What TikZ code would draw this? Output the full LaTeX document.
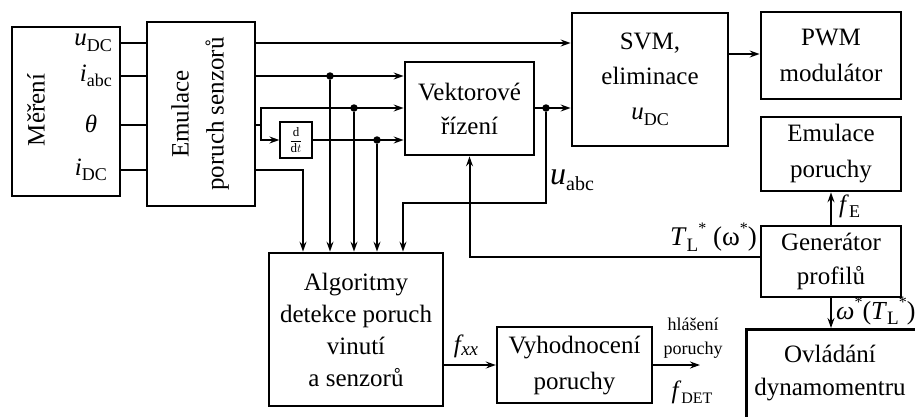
\documentclass[tikz,border=0pt]{standalone}
\usepackage{fontspec}
\setmainfont{Liberation Serif}
\usetikzlibrary{arrows.meta}
\newcommand\fA{\fontsize{25}{34}\selectfont}
\newcommand\fS{\fontsize{18}{20}\selectfont}
\newcommand\sbs[2]{\textit{#1}\raisebox{-0.22em}{\fontsize{18}{18}\selectfont #2}}
\newcommand\sps{\raisebox{0.45em}{\fontsize{16}{16}\selectfont *}}
\tikzset{
  box/.style={draw, line width=2.8pt, inner sep=0pt, align=center, font=\fA},
  ln/.style={line width=2pt},
  ar/.style={line width=2pt, -{Stealth[length=10pt,width=7pt,inset=3.5pt]}},
  dot/.style={circle, fill, inner sep=0pt, minimum size=7.5pt},
  lbl/.style={font=\fA, inner sep=0pt},
  smalltext/.style={font=\fS, inner sep=0pt}}
\begin{document}
\begin{tikzpicture}[x=1pt,y=-1pt]
\useasboundingbox (0,0) rectangle (915,416);

% boxes
\node[box, minimum width=108, minimum height=169] (mer) at (66,111.5) {};
\node[lbl, rotate=90] (merT) at (36,110) {Měření};
\node[lbl, anchor=east] (lu) at (112,43) {\sbs{u}{DC}};
\node[lbl, anchor=east] (li) at (112,76) {\sbs{i}{abc}};
\node[lbl] (lt) at (91,124) {\textit{θ}};
\node[lbl, anchor=east] (ld) at (107,170) {\sbs{i}{DC}};

\node[box, minimum width=108, minimum height=184] (emu) at (201,114) {};
\node[lbl, rotate=90, align=center, font=\fontsize{25}{35}\selectfont] (emuT) at (200,114) {Emulace\\poruch senzorů};

\node[box, minimum width=129, minimum height=93] (vek) at (469.5,108.5) {Vektorové\\řízení};
\node[box, font=\fontsize{25}{35}\selectfont, minimum width=156, minimum height=133] (svm) at (650,79.5) {SVM,\\eliminace\\\sbs{u}{DC}};
\node[box, font=\fontsize{25}{36}\selectfont, minimum width=140, minimum height=87] (pwm) at (831,55.5) {PWM\\modulátor};
\node[box, font=\fontsize{25}{36}\selectfont, minimum width=140, minimum height=74] (emp) at (831,154) {Emulace\\poruchy};
\node[box, minimum width=140, minimum height=71] (gen) at (831,261.5) {Generátor\\profilů};
\node[box, minimum width=220, minimum height=120, anchor=north west] (ovl) at (745,328) {};
\node[lbl, align=center, font=\fontsize{25}{33}\selectfont] (ovlT) at (830,373) {Ovládání\\dynamomentru};
\node[box, minimum width=174, minimum height=153, font=\fontsize{25}{32}\selectfont] (alg) at (356,329.5) {Algoritmy\\detekce poruch\\vinutí\\a senzorů};
\node[box, line width=2.4pt, minimum width=155, minimum height=76, font=\fontsize{25}{36}\selectfont] (vyh) at (574.5,365) {Vyhodnocení\\poruchy};
\node[draw, line width=1.3pt, minimum width=32, minimum height=36, inner sep=0pt, font=\fontsize{13}{13}\selectfont] (ddt) at (296,140) {$\displaystyle\frac{\mathrm{d}}{\mathrm{d}t}$};

% levels
\coordinate (yU) at (0,43);
\coordinate (yI) at (0,76);
\coordinate (yT) at (0,125);
\coordinate (yD) at (0,170);
\coordinate (yO) at (0,108);
\coordinate (yP) at (0,54);
\coordinate (yG) at (0,257);

% Mereni -> Emulace
\draw[ln] (mer.east |- yU) -- (emu.west |- yU);
\draw[ln] (mer.east |- yI) -- (emu.west |- yI);
\draw[ln] (mer.east |- yT) -- (emu.west |- yT);
\draw[ln] (mer.east |- yD) -- (emu.west |- yD);

% Emulace outputs
\draw[ar] (emu.east |- yU) -- (svm.west |- yU);
\draw[ar] (emu.east |- yI) -- (vek.west |- yI);
\coordinate (j) at (261,125);
\draw[ln] (emu.east |- yT) -- (j);
\draw[ar] (j) |- (vek.west |- yO);
\draw[ar] (j) |- (ddt.west);
\draw[ar] (ddt.east) -- (vek.west |- ddt.east);
\coordinate (c1) at (303,170);
\draw[ar] (emu.east |- yD) -- (c1) -- (c1 |- alg.north);

\node[dot] (d1) at (330,76) {};
\node[dot] (d2) at (354,108) {};
\node[dot] (d3) at (377,140) {};
\draw[ar] (d1) -- (d1 |- alg.north);
\draw[ar] (d2) -- (d2 |- alg.north);
\draw[ar] (d3) -- (d3 |- alg.north);

% Vektorove -> SVM
\draw[ar] (vek.east |- yO) -- (svm.west |- yO);
\node[dot] (d4) at (546,108) {};
\coordinate (c2) at (403,203);
\draw[ar] (d4) |- (c2) -- (c2 |- alg.north);
\node[lbl, anchor=west] (lua) at (550,180) {\textit{\fontsize{32}{32}\selectfont u}\raisebox{-0.22em}{\fontsize{20}{20}\selectfont abc}};

% SVM -> PWM
\draw[ar] (svm.east |- yP) -- (pwm.west |- yP);

% Generator
\draw[ar] (gen.north) -- (emp.south);
\node[lbl, anchor=west] (lfe) at (839,206) {\sbs{f}{E}};
\draw[ar] (gen.west |- yG) -| (vek.south);
\node[lbl, font=\fontsize{27}{30}\selectfont, anchor=south east] (ltl) at (757,252) {\textit{T}\raisebox{-0.22em}{\fontsize{19}{19}\selectfont L}\sps\ (ω\sps)};
\draw[ar] (gen.south) -- (gen.south |- ovl.north);
\node[lbl, font=\fontsize{26}{30}\selectfont, anchor=west] (lom) at (836,311) {\textit{ω}\sps(\textit{T}\raisebox{-0.22em}{\fontsize{19}{19}\selectfont L}\sps)};

% Algoritmy -> Vyhodnoceni
\draw[ar] (alg.east |- vyh.west) -- (vyh.west);
\node[lbl] (lfx) at (466,346) {\textit{f\kern0.5pt\fontsize{19}{19}\selectfont\raisebox{-0.2em}{xx}}};

% Vyhodnoceni output
\coordinate (out) at (700,365);
\draw[ar] (vyh.east) -- (vyh.east -| out);
\node[smalltext] (lh1) at (693,324) {hlášení};
\node[smalltext] (lh2) at (693,350) {poruchy};
\node[lbl] (lh3) at (692,392) {\textit{f}\raisebox{-0.22em}{\fontsize{16}{16}\selectfont DET}};
\end{tikzpicture}
\end{document}
